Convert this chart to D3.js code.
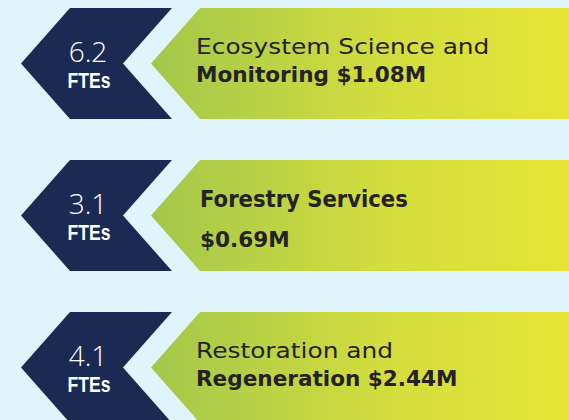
<!DOCTYPE html>
<html>
<head>
<meta charset="utf-8">
<script src="https://cdn.jsdelivr.net/npm/d3@7"></script>
<style>
  html, body { margin: 0; padding: 0; background: #e0f4fb; }
  svg { display: block; }
</style>
</head>
<body>
<div id="chart"></div>
<script>
const programs = [
  "Ecosystem Science and Monitoring",
  "Forestry Services",
  "Restoration and Regeneration",
];
const ftes = [6.2, 3.1, 4.1];
const budgets = [1.08, 0.69, 2.44]; // $M
const firstLineWords = [3, 2, 2];
const boldFirst = [false, true, false];

const width = 569;
const height = 420;
const navy = "#1a2a53";
const ink = "#242223";

const rows = programs.map((name, i) => {
  const words = name.split(" ");
  const head = words.slice(0, firstLineWords[i]).join(" ");
  const rest = words.slice(firstLineWords[i]).join(" ");
  const money = `$${budgets[i].toFixed(2)}M`;
  return {
    name,
    fte: ftes[i],
    line1: head,
    line2: rest ? `${rest} ${money}` : money,
    boldFirst: boldFirst[i],
  };
});

const y = d3
  .scaleBand()
  .domain(programs)
  .range([8, 423])
  .paddingInner(0.27)
  .paddingOuter(0);

const h = y.bandwidth();
const tip = 49; // horizontal depth of the arrow point

const svg = d3
  .select("#chart")
  .append("svg")
  .attr("width", width)
  .attr("height", height)
  .attr("viewBox", [0, 0, width, height]);

svg.append("rect").attr("width", width).attr("height", height).attr("fill", "#e0f4fb");

const grad = svg
  .append("defs")
  .append("linearGradient")
  .attr("id", "band")
  .attr("gradientUnits", "userSpaceOnUse")
  .attr("x1", 151)
  .attr("x2", width)
  .attr("y1", 0)
  .attr("y2", 0);
grad.append("stop").attr("offset", "0%").attr("stop-color", "#a3c74b");
grad.append("stop").attr("offset", "55%").attr("stop-color", "#d2dd3e");
grad.append("stop").attr("offset", "100%").attr("stop-color", "#e6e436");

const row = svg
  .append("g")
  .selectAll("g")
  .data(rows)
  .join("g")
  .attr("transform", (d) => `translate(0,${y(d.name)})`);

// navy chevron
row
  .append("path")
  .attr("fill", navy)
  .attr("d", () => {
    const x0 = 70, x1 = 172;
    return d3.line()([
      [x0, 0],
      [x1, 0],
      [x1 - tip, h / 2],
      [x1, h],
      [x0, h],
      [x0 - tip, h / 2],
    ]) + "Z";
  });

// green banner
row
  .append("path")
  .attr("fill", "url(#band)")
  .attr("d", () => {
    const x0 = 200;
    return d3.line()([
      [x0, 0],
      [width, 0],
      [width, h],
      [x0, h],
      [x0 - tip, h / 2],
    ]) + "Z";
  });

// squeeze or stretch a text horizontally by a factor
function stretch(sel, k) {
  sel.each(function () {
    const len = this.getComputedTextLength();
    d3.select(this)
      .attr("textLength", len * k)
      .attr("lengthAdjust", "spacingAndGlyphs");
  });
}

row
  .append("text")
  .attr("x", 88)
  .attr("y", 54)
  .attr("text-anchor", "middle")
  .attr("fill", "#fff")
  .style("font", "300 28px 'Open Sans', sans-serif")
  .text((d) => d.fte);

row
  .append("text")
  .attr("x", 89)
  .attr("y", 80)
  .attr("text-anchor", "middle")
  .attr("fill", "#fff")
  .style("font", "bold 22px 'Liberation Sans', Arial, sans-serif")
  .text("FTEs")
  .call(stretch, 0.8);

row
  .append("text")
  .attr("x", (d) => (d.boldFirst ? 200 : 196))
  .attr("y", (d) => (d.boldFirst ? 47 : 46))
  .attr("fill", ink)
  .style("font-family", "'DejaVu Sans', sans-serif")
  .style("font-size", (d) => (d.boldFirst ? "23px" : "22px"))
  .attr("font-weight", (d) => (d.boldFirst ? "bold" : "normal"))
  .text((d) => d.line1)
  .each(function (d) {
    stretch(d3.select(this), d.boldFirst ? 0.92 : 1.13);
  });

row
  .append("text")
  .attr("x", (d) => (d.boldFirst ? 200 : 196))
  .attr("y", (d) => (d.boldFirst ? 87 : 74))
  .attr("fill", ink)
  .style("font-family", "'DejaVu Sans', sans-serif")
  .style("font-size", "22px")
  .attr("font-weight", "bold")
  .text((d) => d.line2)
  .call(stretch, 0.98);
</script>
</body>
</html>
